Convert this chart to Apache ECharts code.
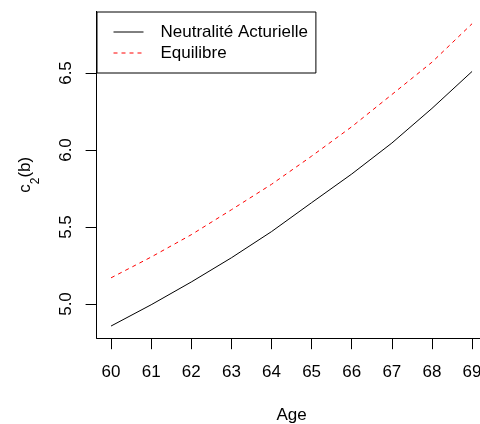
<!DOCTYPE html>
<html>
<head>
<meta charset="utf-8">
<script src="https://cdn.jsdelivr.net/npm/echarts@6/dist/echarts.min.js"></script>
<style>
  html, body { margin: 0; padding: 0; background: #fff; }
  #chart { width: 480px; height: 424px; }
</style>
</head>
<body>
<div id="chart"></div>
<script type="text/javascript">
// données
var ages = [60, 61, 62, 63, 64, 65, 66, 67, 68, 69];
var neutralite = [4.857, 4.995, 5.143, 5.300, 5.470, 5.658, 5.844, 6.045, 6.270, 6.510];
var equilibre = [5.170, 5.305, 5.450, 5.612, 5.777, 5.960, 6.151, 6.360, 6.570, 6.820];
var yTicks = [5.0, 5.5, 6.0, 6.5];

var font = '"Liberation Sans", Arial, Helvetica, sans-serif';

function pairs(xs, ys) {
	var out = [];
	for (var i = 0; i < xs.length; i++) {
		out.push([xs[i], ys[i]]);
	}
	return out;
}

var chart = echarts.init(document.getElementById('chart'), null, { renderer: 'canvas' });

var option = {
	animation: false,
	backgroundColor: '#fff',
	textStyle: { fontFamily: font, color: '#000' },
	grid: { left: 96.6, top: 11.4, width: 389.9, height: 326.8, outerBoundsMode: 'none', containLabel: false },
	legend: {
		orient: 'vertical',
		left: 97,
		top: 12,
		padding: [11.5, 8, 11.5, 16],
		itemGap: 4,
		itemWidth: 30,
		itemHeight: 17,
		backgroundColor: '#fff',
		borderColor: '#000',
		borderWidth: 1,
		borderRadius: 0,
		itemStyle: { opacity: 0 },
		lineStyle: { width: 1 },
		textStyle: { fontFamily: font, fontSize: 17, color: '#000', lineHeight: 17, padding: [0, 0, 0, 12] },
		data: ['Neutralité Acturielle', 'Equilibre']
	},
	xAxis: {
		type: 'value',
		min: 59.64,
		max: 69.36,
		name: 'Age',
		nameLocation: 'middle',
		nameGap: 69,
		nameTextStyle: { fontFamily: font, fontSize: 17, color: '#000' },
		splitLine: { show: false },
		axisLine: { show: true, onZero: false, lineStyle: { color: '#000', width: 1 } },
		axisTick: { show: true, inside: false, length: 11, customValues: ages, lineStyle: { color: '#000' } },
		axisLabel: { customValues: ages, margin: 26, hideOverlap: false, fontFamily: font, fontSize: 17, color: '#000' }
	},
	yAxis: {
		type: 'value',
		min: 4.778,
		max: 6.9,
		name: '{a|c}{s|2}{a|(b)}',
		nameLocation: 'middle',
		nameRotate: 90,
		nameGap: 59,
		nameTextStyle: {
			fontFamily: font, fontSize: 17, color: '#000',
			rich: {
				a: { fontFamily: font, fontSize: 17, color: '#000', lineHeight: 24, verticalAlign: 'middle' },
				s: { fontFamily: font, fontSize: 12, color: '#000', lineHeight: 12, verticalAlign: 'bottom', padding: [0, 0, -4, 0] }
			}
		},
		splitLine: { show: false },
		axisLine: { show: true, onZero: false, lineStyle: { color: '#000', width: 1 } },
		axisTick: { show: true, inside: false, length: 11, customValues: yTicks, lineStyle: { color: '#000' } },
		axisLabel: {
			customValues: yTicks,
			rotate: 90,
			margin: 22,
			fontFamily: font, fontSize: 17, color: '#000',
			formatter: function (v) { return v.toFixed(1); }
		}
	},
	series: [
		{
			name: 'Neutralité Acturielle',
			type: 'line',
			symbol: 'none',
			showSymbol: false,
			lineStyle: { color: '#000', width: 1, type: 'solid' },
			itemStyle: { color: '#000' },
			data: pairs(ages, neutralite)
		},
		{
			name: 'Equilibre',
			type: 'line',
			symbol: 'none',
			showSymbol: false,
			lineStyle: { color: '#ff0000', width: 1, type: [4, 4] },
			itemStyle: { color: '#ff0000' },
			data: pairs(ages, equilibre)
		}
	]
};

chart.setOption(option);
</script>
</body>
</html>
